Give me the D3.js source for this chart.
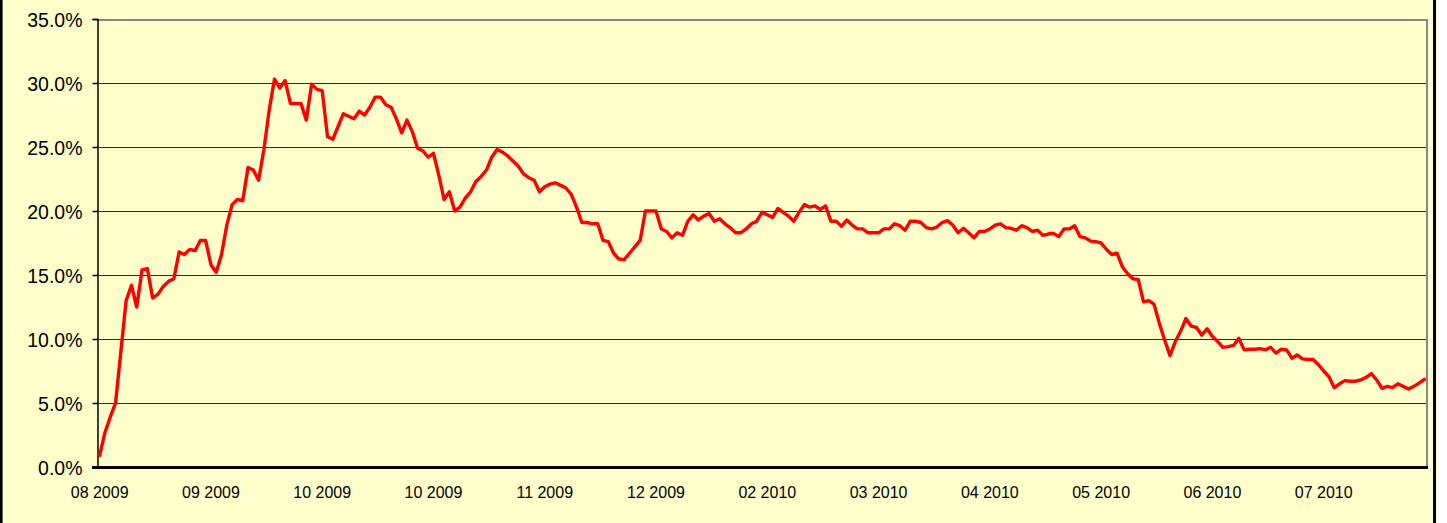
<!DOCTYPE html>
<html lang="en">

<head>
    <meta charset="UTF-8">
    <script src="https://d3js.org/d3.v7.min.js"></script>
    <title>Chart</title>
    <style>
        body { margin: 0; background: #fff; }
        svg { display: block; }
        text { font-family: "Liberation Sans", Arial, sans-serif; fill: #000; }
    </style>
</head>

<body>

    <div id="chart"></div>

    <script>
        // daily values (%), one per trading day
        var values = [
            0.9, 2.7, 3.9, 5.0, 9.0, 13.0, 14.2, 12.5, 15.4, 15.5,
            13.2, 13.5, 14.1, 14.5, 14.7, 16.8, 16.6, 17.0, 16.9, 17.7,
            17.7, 15.8, 15.2, 16.6, 18.9, 20.5, 20.9, 20.8, 23.4, 23.2,
            22.4, 24.8, 27.9, 30.3, 29.6, 30.2, 28.4, 28.4, 28.4, 27.1,
            29.9, 29.5, 29.4, 25.8, 25.6, 26.6, 27.6, 27.4, 27.2, 27.8,
            27.5, 28.1, 28.9, 28.9, 28.3, 28.1, 27.2, 26.1, 27.1, 26.2,
            24.9, 24.7, 24.2, 24.5, 22.8, 20.9, 21.5, 20.0, 20.3, 21.0,
            21.5, 22.3, 22.7, 23.2, 24.2, 24.8, 24.6, 24.3, 23.9, 23.5,
            22.9, 22.6, 22.4, 21.5, 21.9, 22.1, 22.2, 22.0, 21.8, 21.3,
            20.3, 19.1, 19.1, 19.0, 19.0, 17.7, 17.6, 16.7, 16.25, 16.2,
            16.7, 17.2, 17.7, 20.0, 20.0, 20.0, 18.6, 18.4, 17.9, 18.3,
            18.1, 19.2, 19.7, 19.3, 19.6, 19.8, 19.2, 19.4, 19.0, 18.7,
            18.3, 18.3, 18.6, 19.0, 19.2, 19.9, 19.7, 19.5, 20.2, 19.9,
            19.6, 19.2, 19.9, 20.5, 20.3, 20.4, 20.1, 20.4, 19.2, 19.2,
            18.8, 19.3, 18.9, 18.6, 18.6, 18.3, 18.3, 18.3, 18.6, 18.6,
            19.0, 18.85, 18.5, 19.2, 19.2, 19.1, 18.7, 18.6, 18.75, 19.1,
            19.25, 18.9, 18.3, 18.65, 18.3, 17.9, 18.4, 18.4, 18.6, 18.9,
            19.0, 18.7, 18.65, 18.5, 18.85, 18.7, 18.4, 18.5, 18.1, 18.2,
            18.25, 18.0, 18.6, 18.6, 18.85, 18.0, 17.9, 17.65, 17.6, 17.5,
            17.0, 16.6, 16.7, 15.65, 15.1, 14.7, 14.65, 12.9, 13.0, 12.7,
            11.2, 9.9, 8.7, 9.8, 10.6, 11.6, 11.0, 10.9, 10.3, 10.8,
            10.2, 9.8, 9.35, 9.4, 9.5, 10.05, 9.15, 9.2, 9.2, 9.25,
            9.15, 9.35, 8.9, 9.2, 9.15, 8.5, 8.75, 8.45, 8.4, 8.4,
            8.0, 7.5, 7.05, 6.2, 6.5, 6.75, 6.7, 6.7, 6.8, 7.0,
            7.3, 6.8, 6.15, 6.3, 6.2, 6.5, 6.3, 6.1, 6.3, 6.55,
            6.85
        ];

        // x axis labels and the point index they sit on
        var tickLabels = ["08 2009", "09 2009", "10 2009", "10 2009", "11 2009", "12 2009",
            "02 2010", "03 2010", "04 2010", "05 2010", "06 2010", "07 2010"];
        var tickIndex = [0, 21, 42, 63, 84, 105, 126, 147, 168, 189, 210, 231];

        var yTicks = [0, 5, 10, 15, 20, 25, 30, 35];

        var W = 1447, H = 523;
        var plot = { left: 97, right: 1427, top: 19, bottom: 467 };

        var svg = d3.select("#chart").append("svg")
            .attr("width", W)
            .attr("height", H);

        // chart area background + side borders
        svg.append("rect")
            .attr("x", 0).attr("y", 0)
            .attr("width", 1437).attr("height", H)
            .attr("fill", "#ffffcc");
        svg.append("line")
            .attr("x1", 1.3).attr("x2", 1.3).attr("y1", 0).attr("y2", H)
            .attr("stroke", "#000").attr("stroke-width", 2.6);
        svg.append("line")
            .attr("x1", 1434.5).attr("x2", 1434.5).attr("y1", 0).attr("y2", H)
            .attr("stroke", "#000").attr("stroke-width", 3);

        var x = d3.scaleBand()
            .domain(d3.range(values.length))
            .range([plot.left, plot.right])
            .paddingInner(0);

        var y = d3.scaleLinear()
            .domain([0, 35])
            .range([plot.bottom, plot.top]);

        // gridlines
        svg.append("g")
            .selectAll("line")
            .data(yTicks.filter(function (d) { return d > 0 && d < 35; }))
            .enter()
            .append("line")
            .attr("x1", plot.left).attr("x2", plot.right)
            .attr("y1", function (d) { return y(d) + 0.5; })
            .attr("y2", function (d) { return y(d) + 0.5; })
            .attr("stroke", "#2b2b2b")
            .attr("stroke-width", 1);

        // top and right border (gray)
        svg.append("path")
            .attr("d", "M" + plot.left + "," + (plot.top + 1) + "H" + plot.right + "V" + plot.bottom)
            .attr("fill", "none")
            .attr("stroke", "#868686")
            .attr("stroke-width", 2);

        // y axis
        var yAxis = svg.append("g")
            .attr("transform", "translate(" + (plot.left + 0.5) + ",0)")
            .call(d3.axisLeft(y)
                .tickValues(yTicks)
                .tickSize(5)
                .tickPadding(10)
                .tickFormat(function (d) { return d.toFixed(1) + "%"; }));
        yAxis.select(".domain").attr("stroke", "#000").attr("stroke-width", 1.5);
        yAxis.selectAll(".tick line").attr("stroke", "#000").attr("stroke-width", 1.5);
        yAxis.selectAll(".tick text")
            .style("font-family", '"Liberation Sans", Arial, sans-serif')
            .style("font-size", "19.5px")
            .attr("fill", "#000")
            .attr("dy", "0.36em");

        // x axis
        var xAxis = svg.append("g")
            .attr("transform", "translate(0," + plot.bottom + ")")
            .call(d3.axisBottom(x)
                .tickValues(tickIndex)
                .tickSize(0)
                .tickPadding(0)
                .tickFormat(function (d, k) { return tickLabels[k]; }));
        xAxis.select(".domain").remove();
        xAxis.selectAll(".tick text")
            .style("font-family", '"Liberation Sans", Arial, sans-serif')
            .style("font-size", "16px")
            .attr("fill", "#000")
            .attr("y", 31)
            .attr("dy", 0);

        svg.append("line")
            .attr("x1", plot.left - 5).attr("x2", plot.right + 1)
            .attr("y1", plot.bottom + 0.5).attr("y2", plot.bottom + 0.5)
            .attr("stroke", "#000")
            .attr("stroke-width", 3.2);

        // the series line
        var line = d3.line()
            .x(function (d, i) { return x(i) + x.bandwidth() / 2; })
            .y(function (d) { return y(d); });

        svg.append("path")
            .datum(values)
            .attr("d", line)
            .attr("fill", "none")
            .attr("stroke", "#ff0000")
            .attr("stroke-width", 3.4)
            .attr("stroke-linejoin", "round")
            .attr("stroke-linecap", "round");
    </script>
</body>

</html>
